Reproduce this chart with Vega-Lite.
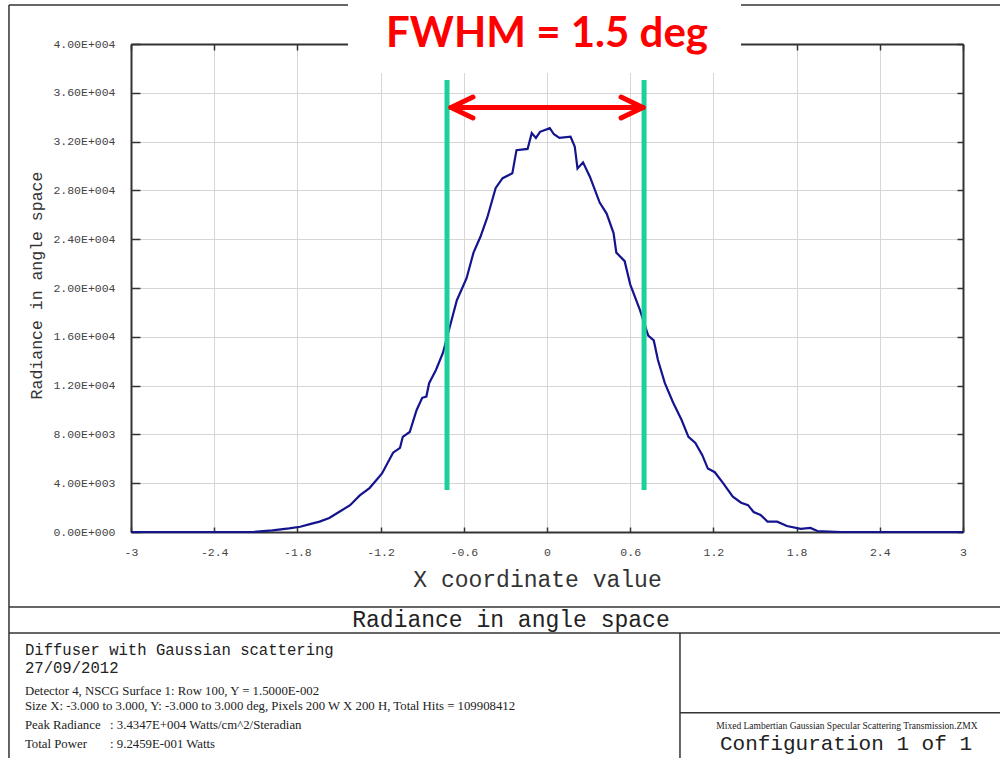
{
  "$schema": "https://vega.github.io/schema/vega-lite/v6.json",
  "width": 832,
  "height": 488,
  "autosize": "none",
  "padding": {"left": 131, "top": 44, "right": 37, "bottom": 226},
  "background": "white",
  "config": {"view": {"stroke": null}, "font": "Liberation Mono"},
  "datasets": {
    "curve": [
      {"x": -3, "y": 0}, {"x": -2.4, "y": 0}, {"x": -2.12, "y": 0}, {"x": -1.98, "y": 140}, {"x": -1.86, "y": 300},
      {"x": -1.78, "y": 430}, {"x": -1.71, "y": 650}, {"x": -1.64, "y": 850}, {"x": -1.57, "y": 1150}, {"x": -1.5, "y": 1640},
      {"x": -1.42, "y": 2200}, {"x": -1.35, "y": 3000}, {"x": -1.28, "y": 3600}, {"x": -1.23, "y": 4260}, {"x": -1.19, "y": 4800},
      {"x": -1.11, "y": 6500}, {"x": -1.06, "y": 6900}, {"x": -1.04, "y": 7800}, {"x": -0.99, "y": 8200}, {"x": -0.94, "y": 10000},
      {"x": -0.9, "y": 11000}, {"x": -0.87, "y": 11100}, {"x": -0.85, "y": 12200}, {"x": -0.8, "y": 13300}, {"x": -0.75, "y": 14700},
      {"x": -0.72, "y": 16000}, {"x": -0.65, "y": 19000}, {"x": -0.58, "y": 20800}, {"x": -0.53, "y": 22900}, {"x": -0.48, "y": 24200},
      {"x": -0.43, "y": 25800}, {"x": -0.37, "y": 28200}, {"x": -0.32, "y": 29000}, {"x": -0.25, "y": 29400}, {"x": -0.22, "y": 31300},
      {"x": -0.14, "y": 31400}, {"x": -0.11, "y": 32700}, {"x": -0.08, "y": 32300}, {"x": -0.05, "y": 32800}, {"x": 0.02, "y": 33100},
      {"x": 0.05, "y": 32600}, {"x": 0.09, "y": 32300}, {"x": 0.17, "y": 32400}, {"x": 0.2, "y": 31600}, {"x": 0.22, "y": 29800},
      {"x": 0.26, "y": 30300}, {"x": 0.31, "y": 29100}, {"x": 0.38, "y": 27000}, {"x": 0.43, "y": 26100}, {"x": 0.48, "y": 24500},
      {"x": 0.5, "y": 22900}, {"x": 0.56, "y": 22200}, {"x": 0.6, "y": 20300}, {"x": 0.67, "y": 18200}, {"x": 0.73, "y": 16100},
      {"x": 0.77, "y": 15700}, {"x": 0.8, "y": 14100}, {"x": 0.85, "y": 12200}, {"x": 0.91, "y": 10600}, {"x": 0.97, "y": 9200},
      {"x": 1.02, "y": 7800}, {"x": 1.07, "y": 7300}, {"x": 1.12, "y": 6300}, {"x": 1.16, "y": 5200}, {"x": 1.21, "y": 4900},
      {"x": 1.27, "y": 4000}, {"x": 1.34, "y": 2900}, {"x": 1.4, "y": 2400}, {"x": 1.45, "y": 2200}, {"x": 1.49, "y": 1640},
      {"x": 1.54, "y": 1400}, {"x": 1.59, "y": 850}, {"x": 1.66, "y": 850}, {"x": 1.73, "y": 490}, {"x": 1.83, "y": 250},
      {"x": 1.9, "y": 330}, {"x": 1.95, "y": 80}, {"x": 2.12, "y": 0}, {"x": 3, "y": 0}
    ],
    "frame": [
      {"x1": -3.88, "x2": 3.3, "y1": 43197, "y2": 43197},
      {"x1": -3.88, "x2": -3.88, "y1": 43197, "y2": -18600},
      {"x1": -3.88, "x2": 3.3, "y1": -6148, "y2": -6148},
      {"x1": -3.88, "x2": 3.3, "y1": -8279, "y2": -8279},
      {"x1": 0.959, "x2": 0.959, "y1": -8279, "y2": -18600},
      {"x1": 0.959, "x2": 3.3, "y1": -14811, "y2": -14811}
    ],
    "green": [
      {"x": -0.721, "y1": 37050, "y2": 3440},
      {"x": 0.70, "y1": 37050, "y2": 3440}
    ],
    "arrow": [
      {"x1": -0.692, "x2": 0.692, "y1": 34795, "y2": 34795},
      {"x1": -0.692, "x2": -0.534, "y1": 34795, "y2": 35656},
      {"x1": -0.692, "x2": -0.534, "y1": 34795, "y2": 33934},
      {"x1": 0.692, "x2": 0.534, "y1": 34795, "y2": 35656},
      {"x1": 0.692, "x2": 0.534, "y1": 34795, "y2": 33934}
    ],
    "cover": [{"x1": -1.435, "x2": 1.399, "y1": 37623, "y2": 44000}],
    "fwhm": [{"x": 0, "y": 39754, "text": "FWHM = 1.5 deg"}],
    "bigText": [
      {"x": -0.26, "y": -7787, "text": "Radiance in angle space"}
    ],
    "configText": [
      {"x": 2.156, "y": -17869, "text": "Configuration 1 of 1"}
    ],
    "midText": [
      {"x": -3.765, "y": -10082, "text": "Diffuser with Gaussian scattering"},
      {"x": -3.765, "y": -11557, "text": "27/09/2012"}
    ],
    "smallText": [
      {"x": -3.765, "y": -13400, "text": "Detector 4, NSCG Surface 1: Row 100, Y = 1.5000E-002"},
      {"x": -3.765, "y": -14550, "text": "Size X: -3.000 to 3.000, Y: -3.000 to 3.000 deg, Pixels 200 W X 200 H, Total Hits = 109908412"},
      {"x": -3.765, "y": -16150, "text": "Peak Radiance"},
      {"x": -3.151, "y": -16150, "text": ": 3.4347E+004 Watts/cm^2/Steradian"},
      {"x": -3.765, "y": -17705, "text": "Total Power"},
      {"x": -3.151, "y": -17705, "text": ": 9.2459E-001 Watts"}
    ],
    "tinyText": [
      {"x": 2.163, "y": -16148, "text": "Mixed Lambertian Gaussian Specular Scattering Transmission.ZMX"}
    ]
  },
  "resolve": {"axis": {"x": "independent", "y": "independent"}},
  "layer": [
    {
      "data": {"name": "curve"},
      "mark": {"type": "line", "color": "#14148f", "strokeWidth": 2.2},
      "encoding": {
        "x": {
          "field": "x", "type": "quantitative",
          "scale": {"domain": [-3, 3], "nice": false, "zero": false},
          "axis": {
            "orient": "bottom",
            "values": [-3, -2.4, -1.8, -1.2, -0.6, 0, 0.6, 1.2, 1.8, 2.4, 3],
            "labelExpr": "toString(round(datum.value * 10) / 10)",
            "labelFont": "Liberation Mono", "labelFontSize": 11.5, "labelColor": "#444",
            "labelFlush": false, "labelOverlap": false, "labelPadding": 19,
            "tickSize": -5, "tickColor": "#333", "tickWidth": 1.5,
            "domainColor": "#333", "domainWidth": 2,
            "grid": true, "gridColor": "#d6d6d6", "gridWidth": 1,
            "title": "X coordinate value",
            "titleFont": "Liberation Mono", "titleFontSize": 23, "titleFontWeight": "normal", "titleColor": "#333",
            "titleX": 406, "titleY": 54, "titleAlign": "center", "titleBaseline": "alphabetic"
          }
        },
        "y": {
          "field": "y", "type": "quantitative",
          "scale": {"domain": [0, 40000], "nice": false, "zero": false},
          "axis": {
            "orient": "left",
            "values": [0, 4000, 8000, 12000, 16000, 20000, 24000, 28000, 32000, 36000, 40000],
            "labelExpr": "datum.value == 0 ? '0.00E+000' : format(datum.value / pow(10, floor(log(datum.value) / LN10 + 1e-9)), '.2f') + 'E+00' + toString(floor(log(datum.value) / LN10 + 1e-9))",
            "labelFont": "Liberation Mono", "labelFontSize": 11.5, "labelColor": "#444",
            "labelPadding": 25, "labelBaseline": "middle",
            "tickSize": -9, "tickColor": "#333", "tickWidth": 1.5,
            "domainColor": "#333", "domainWidth": 2,
            "grid": true, "gridColor": "#d6d6d6", "gridWidth": 1,
            "title": "Radiance in angle space",
            "titleFont": "Liberation Mono", "titleFontSize": 16.5, "titleFontWeight": "normal", "titleColor": "#333",
            "titleX": -95, "titleY": 241, "titleAlign": "center", "titleBaseline": "middle", "titleAngle": -90
          }
        }
      }
    },
    {
      "data": {"name": "frame"},
      "mark": {"type": "rule", "color": "#333", "strokeWidth": 1.5},
      "encoding": {
        "x": {"field": "x1", "type": "quantitative", "axis": {"orient": "top", "values": [-3, -2.4, -1.8, -1.2, -0.6, 0, 0.6, 1.2, 1.8, 2.4, 3], "labels": false, "title": null, "grid": false, "tickSize": -6, "tickColor": "#333", "tickWidth": 1.5, "domainColor": "#333", "domainWidth": 2}},
        "x2": {"field": "x2"},
        "y": {"field": "y1", "type": "quantitative", "axis": {"orient": "right", "values": [0, 4000, 8000, 12000, 16000, 20000, 24000, 28000, 32000, 36000, 40000], "labels": false, "title": null, "grid": false, "tickSize": -6, "tickColor": "#333", "tickWidth": 1.5, "domainColor": "#333", "domainWidth": 2}},
        "y2": {"field": "y2"}
      }
    },
    {
      "data": {"name": "cover"},
      "mark": {"type": "rect", "color": "white"},
      "encoding": {
        "x": {"field": "x1", "type": "quantitative", "axis": null},
        "x2": {"field": "x2"},
        "y": {"field": "y1", "type": "quantitative", "axis": null},
        "y2": {"field": "y2"}
      }
    },
    {
      "data": {"name": "green"},
      "mark": {"type": "rule", "color": "#1bd09a", "strokeWidth": 5},
      "encoding": {
        "x": {"field": "x", "type": "quantitative", "axis": null},
        "y": {"field": "y1", "type": "quantitative", "axis": null},
        "y2": {"field": "y2"}
      }
    },
    {
      "data": {"name": "arrow"},
      "mark": {"type": "rule", "color": "#ff0000", "strokeWidth": 5, "strokeCap": "round"},
      "encoding": {
        "x": {"field": "x1", "type": "quantitative", "axis": null},
        "x2": {"field": "x2"},
        "y": {"field": "y1", "type": "quantitative", "axis": null},
        "y2": {"field": "y2"}
      }
    },
    {
      "data": {"name": "fwhm"},
      "mark": {"type": "text", "font": "Lato", "fontWeight": "bold", "fontSize": 42, "color": "#ff0000", "align": "center", "baseline": "alphabetic"},
      "encoding": {
        "x": {"field": "x", "type": "quantitative", "axis": null},
        "y": {"field": "y", "type": "quantitative", "axis": null},
        "text": {"field": "text"}
      }
    },
    {
      "data": {"name": "bigText"},
      "mark": {"type": "text", "font": "Liberation Mono", "fontSize": 23, "color": "#222", "align": "center", "baseline": "alphabetic"},
      "encoding": {
        "x": {"field": "x", "type": "quantitative", "axis": null},
        "y": {"field": "y", "type": "quantitative", "axis": null},
        "text": {"field": "text"}
      }
    },
    {
      "data": {"name": "configText"},
      "mark": {"type": "text", "font": "Liberation Mono", "fontSize": 21, "color": "#222", "align": "center", "baseline": "alphabetic"},
      "encoding": {
        "x": {"field": "x", "type": "quantitative", "axis": null},
        "y": {"field": "y", "type": "quantitative", "axis": null},
        "text": {"field": "text"}
      }
    },
    {
      "data": {"name": "midText"},
      "mark": {"type": "text", "font": "Liberation Mono", "fontSize": 15.6, "color": "#222", "align": "left", "baseline": "alphabetic"},
      "encoding": {
        "x": {"field": "x", "type": "quantitative", "axis": null},
        "y": {"field": "y", "type": "quantitative", "axis": null},
        "text": {"field": "text"}
      }
    },
    {
      "data": {"name": "smallText"},
      "mark": {"type": "text", "font": "Liberation Serif", "fontSize": 12.8, "color": "#222", "align": "left", "baseline": "alphabetic"},
      "encoding": {
        "x": {"field": "x", "type": "quantitative", "axis": null},
        "y": {"field": "y", "type": "quantitative", "axis": null},
        "text": {"field": "text"}
      }
    },
    {
      "data": {"name": "tinyText"},
      "mark": {"type": "text", "font": "Liberation Serif", "fontSize": 9.5, "color": "#222", "align": "center", "baseline": "alphabetic"},
      "encoding": {
        "x": {"field": "x", "type": "quantitative", "axis": null},
        "y": {"field": "y", "type": "quantitative", "axis": null},
        "text": {"field": "text"}
      }
    }
  ]
}
